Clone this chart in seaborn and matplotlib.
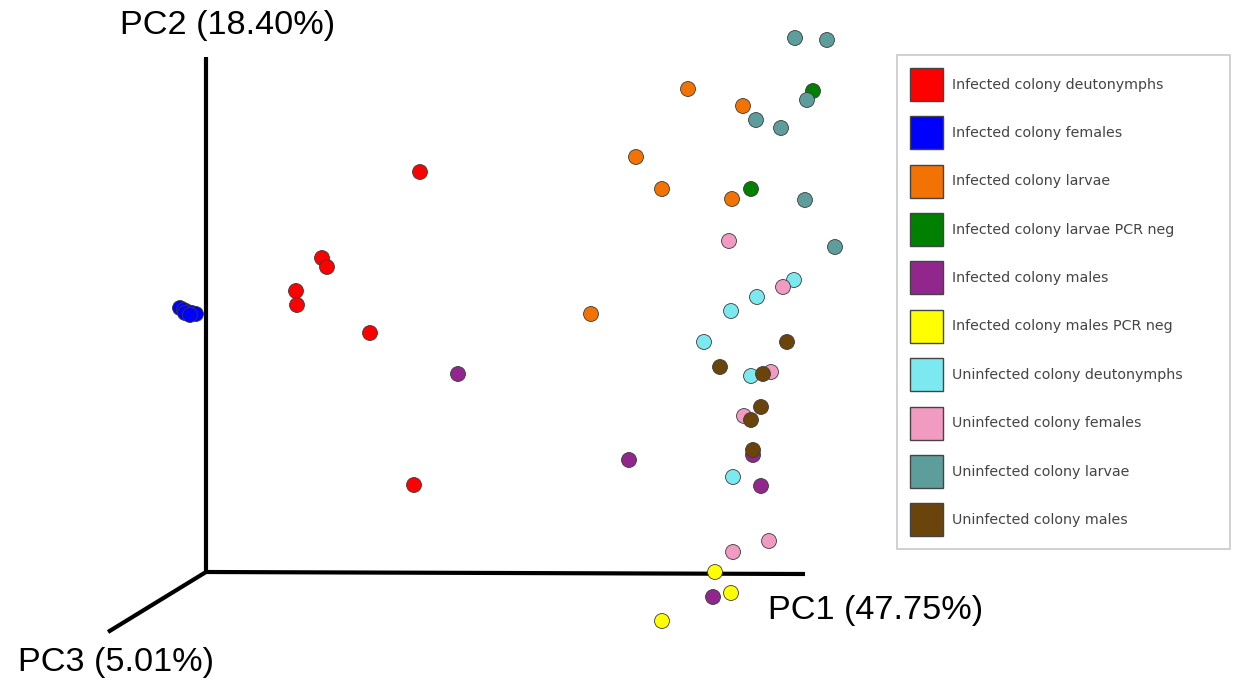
import numpy as np
import pandas as pd
import seaborn as sns
import matplotlib.pyplot as plt
from matplotlib.patches import Patch

W, H = 1233, 685

# groups in legend order with emperor-style colours
groups = [
    'Infected colony deutonymphs',
    'Infected colony females',
    'Infected colony larvae',
    'Infected colony larvae PCR neg',
    'Infected colony males',
    'Infected colony males PCR neg',
    'Uninfected colony deutonymphs',
    'Uninfected colony females',
    'Uninfected colony larvae',
    'Uninfected colony males',
]
colors = ['#ff0000', '#0000ff', '#f27304', '#008000', '#91278d',
          '#ffff00', '#7ce9f0', '#f29bc2', '#5d9e9c', '#6b440b']

# projected positions of the samples (screen units of the 3D view)
pc_x = {
    'Infected colony deutonymphs': [420, 322, 327, 296, 297, 370, 414],
    'Infected colony females': [180, 184, 188, 192, 196, 185, 190],
    'Infected colony larvae': [688, 743, 636, 662, 732, 591],
    'Infected colony larvae PCR neg': [813, 751],
    'Infected colony males': [458, 629, 753, 761, 713],
    'Infected colony males PCR neg': [715, 731, 662],
    'Uninfected colony deutonymphs': [794, 757, 731, 704, 751, 733],
    'Uninfected colony females': [729, 783, 771, 744, 733, 769],
    'Uninfected colony larvae': [795, 827, 807, 756, 781, 805, 835],
    'Uninfected colony males': [787, 720, 763, 761, 751, 753],
}
pc_y = {
    'Infected colony deutonymphs': [172, 258, 267, 291, 305, 333, 485],
    'Infected colony females': [308, 310, 312, 313, 314, 313, 315],
    'Infected colony larvae': [89, 106, 157, 189, 199, 314],
    'Infected colony larvae PCR neg': [91, 189],
    'Infected colony males': [374, 460, 455, 486, 597],
    'Infected colony males PCR neg': [572, 593, 621],
    'Uninfected colony deutonymphs': [280, 297, 311, 342, 376, 477],
    'Uninfected colony females': [241, 287, 372, 416, 552, 541],
    'Uninfected colony larvae': [38, 40, 100, 120, 128, 200, 247],
    'Uninfected colony males': [342, 367, 374, 407, 420, 450],
}

rows = []
for g in groups:
    for x, y in zip(pc_x[g], pc_y[g]):
        rows.append({'x': x, 'y': y, 'group': g})
df = pd.DataFrame(rows)

sns.set_style('white')
plt.rcParams['font.family'] = ['DejaVu Sans']

fig = plt.figure(figsize=(W / 100, H / 100), dpi=100)
ax = fig.add_axes([0, 0, 1, 1])
ax.set_xlim(0, W)
ax.set_ylim(H, 0)
ax.axis('off')

# the three PC axes of the 3D view
origin = (206, 572)
ax.plot([origin[0], 206], [origin[1], 57], color='black', lw=3, solid_capstyle='butt', zorder=1)
ax.plot([origin[0], 805], [origin[1], 574], color='black', lw=3, solid_capstyle='butt', zorder=1)
ax.plot([origin[0], 108], [origin[1], 632], color='black', lw=3, solid_capstyle='butt', zorder=1)

sns.scatterplot(data=df, x='x', y='y', hue='group', hue_order=groups,
                palette=dict(zip(groups, colors)), s=115, edgecolor='#3a3a3a',
                linewidth=0.6, legend=False, ax=ax, zorder=3)

lab_font = dict(family='Liberation Sans', fontsize=24.7, color='black')
ax.text(120, 25, 'PC2 (18.40%)', ha='left', va='center', **lab_font)
ax.text(768, 610, 'PC1 (47.75%)', ha='left', va='center', **lab_font)
ax.text(18, 663, 'PC3 (5.01%)', ha='left', va='center', **lab_font)

handles = [Patch(facecolor=c, edgecolor='#444444', linewidth=1) for c in colors]
leg = ax.legend(handles, groups, loc='upper left',
                bbox_to_anchor=(897 / W, 1 - 549 / H, 333 / W, 494 / H),
                bbox_transform=fig.transFigure, mode='expand', borderaxespad=0,
                fontsize=10.3, handlelength=2.31, handleheight=3.18,
                labelspacing=1.07, handletextpad=0.63, borderpad=0.9,
                frameon=True, fancybox=False, labelcolor='#444444')
leg.get_frame().set_edgecolor('#bbbbbb')
leg.get_frame().set_linewidth(1.2)

fig.savefig('out.png', dpi=100)
